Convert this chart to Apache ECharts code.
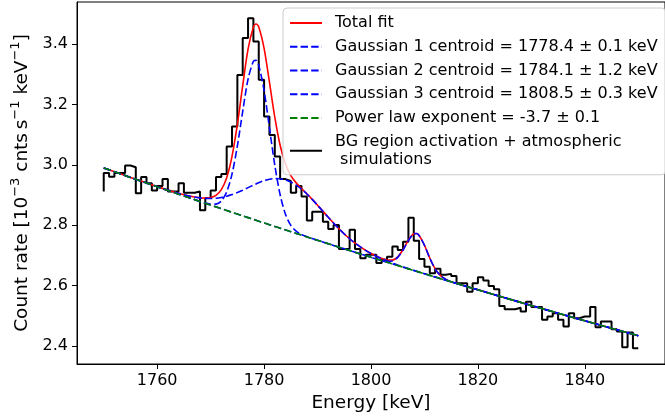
<!DOCTYPE html>
<html>
<head>
<meta charset="utf-8">
<script src="https://cdn.jsdelivr.net/npm/echarts@6/dist/echarts.min.js"></script>
<style>html,body{margin:0;padding:0;background:#fff}#c{width:665px;height:419px}</style>
</head>
<body>
<div id="c"></div>
<script>
// ---- data ----
const histEnergy = [1750,1751,1752,1753,1754,1755,1756,1757,1758,1759,1760,1761,1762,1763,1764,1765,1766,1767,1768,1769,1770,1771,1772,1773,1774,1775,1776,1777,1778,1779,1780,1781,1782,1783,1784,1785,1786,1787,1788,1789,1790,1791,1792,1793,1794,1795,1796,1797,1798,1799,1800,1801,1802,1803,1804,1805,1806,1807,1808,1809,1810,1811,1812,1813,1814,1815,1816,1817,1818,1819,1820,1821,1822,1823,1824,1825,1826,1827,1828,1829,1830,1831,1832,1833,1834,1835,1836,1837,1838,1839,1840,1841,1842,1843,1844,1845,1846,1847,1848,1849,1850];
const histRate = [2.912,
 2.973,2.961,2.973,2.973,2.998,2.992,2.906,2.960,2.939,2.915,
 2.930,2.953,2.912,2.912,2.939,2.908,2.908,2.912,2.850,2.890,
 2.915,2.960,2.970,3.061,3.127,3.298,3.420,3.486,3.409,3.282,
 3.160,3.099,3.028,2.953,2.947,2.908,2.930,2.895,2.816,2.845,
 2.845,2.812,2.788,2.801,2.721,2.721,2.785,2.721,2.691,2.702,
 2.702,2.675,2.686,2.696,2.730,2.718,2.745,2.825,2.749,2.688,
 2.663,2.641,2.656,2.636,2.639,2.632,2.608,2.608,2.580,2.608,
 2.628,2.617,2.599,2.588,2.533,2.522,2.522,2.527,2.514,2.547,
 2.529,2.529,2.487,2.498,2.509,2.487,2.465,2.509,2.492,2.498,
 2.498,2.529,2.462,2.481,2.481,2.456,2.448,2.396,2.445,2.393];

const fitEnergy = [1750,1755,1760,1764,1766,1768,1769,1770,1771,1772,1773,1774,1775,1776,1777,1778,1778.5,1779,1780,1781,1782,1783,1784,1785,1786,1787,1788,1789,1790,1792,1794,1796,1798,1800,1802,1803,1804,1805,1806,1807,1808,1808.5,1809,1810,1811,1812,1813,1814,1815,1818,1820,1825,1830,1835,1840,1845,1850];
const totalFit = [2.9900,2.9586,2.9280,2.9058,2.8969,2.8909,2.8899,2.8916,2.8989,2.9178,2.9575,3.0282,3.1338,3.2623,3.3831,3.4568,3.4666,3.4570,3.3862,3.2739,3.1580,3.0651,3.0026,2.9644,2.9404,2.9219,2.9042,2.8858,2.8665,2.8266,2.7886,2.7554,2.7282,2.7066,2.6899,2.6847,2.6848,2.6954,2.7195,2.7507,2.7719,2.7729,2.7663,2.7339,2.6913,2.6556,2.6331,2.6208,2.6132,2.5967,2.5861,2.5600,2.5342,2.5088,2.4836,2.4588,2.4343];
const gauss1 = [2.9900,2.9586,2.9276,2.9031,2.8910,2.8791,2.8737,2.8698,2.8701,2.8805,2.9103,2.9696,3.0625,3.1773,3.2838,3.3432,3.3461,3.3297,3.2464,3.1234,2.9993,2.9011,2.8366,2.7998,2.7804,2.7695,2.7621,2.7559,2.7501,2.7388,2.7275,2.7163,2.7051,2.6940,2.6830,2.6775,2.6720,2.6665,2.6611,2.6556,2.6502,2.6475,2.6448,2.6394,2.6340,2.6286,2.6232,2.6179,2.6126,2.5967,2.5861,2.5600,2.5342,2.5088,2.4836,2.4588,2.4343];
const gauss2 = [2.9900,2.9586,2.9280,2.9058,2.8969,2.8907,2.8891,2.8887,2.8897,2.8922,2.8962,2.9016,2.9084,2.9162,2.9246,2.9330,2.9370,2.9409,2.9476,2.9524,2.9548,2.9543,2.9505,2.9433,2.9330,2.9197,2.9036,2.8857,2.8665,2.8266,2.7886,2.7554,2.7282,2.7066,2.6893,2.6818,2.6749,2.6684,2.6623,2.6564,2.6507,2.6479,2.6451,2.6396,2.6341,2.6286,2.6232,2.6179,2.6126,2.5967,2.5861,2.5600,2.5342,2.5088,2.4836,2.4588,2.4343];
const gauss3 = [2.9900,2.9586,2.9276,2.9031,2.8910,2.8789,2.8729,2.8669,2.8609,2.8549,2.8490,2.8430,2.8371,2.8312,2.8253,2.8194,2.8165,2.8136,2.8078,2.8019,2.7961,2.7903,2.7845,2.7787,2.7730,2.7673,2.7615,2.7558,2.7501,2.7388,2.7275,2.7163,2.7051,2.6940,2.6836,2.6804,2.6819,2.6935,2.7183,2.7499,2.7714,2.7725,2.7660,2.7337,2.6912,2.6556,2.6331,2.6208,2.6132,2.5967,2.5861,2.5600,2.5342,2.5088,2.4836,2.4588,2.4343];
const powerLaw = [2.9900,2.9586,2.9276,2.9031,2.8910,2.8789,2.8729,2.8669,2.8609,2.8549,2.8490,2.8430,2.8371,2.8312,2.8253,2.8194,2.8165,2.8136,2.8078,2.8019,2.7961,2.7903,2.7845,2.7787,2.7730,2.7673,2.7615,2.7558,2.7501,2.7388,2.7275,2.7163,2.7051,2.6940,2.6830,2.6775,2.6720,2.6665,2.6611,2.6556,2.6502,2.6475,2.6448,2.6394,2.6340,2.6286,2.6232,2.6179,2.6126,2.5967,2.5861,2.5600,2.5342,2.5088,2.4836,2.4588,2.4343];

const xTicks = [1760,1780,1800,1820,1840];
const yTicks = [2.4,2.6,2.8,3.0,3.2,3.4];
const seriesNames = ['Total fit',
  'Gaussian 1 centroid = 1778.4 \u00b1 0.1 keV',
  'Gaussian 2 centroid = 1784.1 \u00b1 1.2 keV',
  'Gaussian 3 centroid = 1808.5 \u00b1 0.3 keV',
  'Power law exponent = -3.7 \u00b1 0.1',
  'BG region activation + atmospheric\n simulations'];

// ---- build chart ----
const pair = (xs, ys) => xs.map((x, i) => [x, ys[i]]);
const FONT = 'DejaVu Sans';
const dash = [7.4, 3.2];
const chart = echarts.init(document.getElementById('c'), null, {renderer: 'canvas'});
chart.setOption({
  animation: false,
  backgroundColor: '#fff',
  textStyle: {fontFamily: FONT, color: '#000'},
  grid: {left: 77, top: 2, width: 597, height: 362, show: true, borderColor: '#000', borderWidth: 1},
  xAxis: {
    type: 'value', min: 1745, max: 1855,
    name: 'Energy [keV]', nameLocation: 'middle', nameGap: 29,
    nameTextStyle: {fontFamily: FONT, fontSize: 18.5, color: '#000'},
    axisLine: {lineStyle: {color: '#000', width: 1}},
    axisTick: {show: true, length: 5, lineStyle: {color: '#000'}, customValues: xTicks},
    axisLabel: {fontFamily: FONT, fontSize: 16, color: '#000', margin: 9, customValues: xTicks,
      formatter: v => String(Math.round(v))},
    splitLine: {show: false}
  },
  yAxis: {
    type: 'value', min: 2.3405, max: 3.5395,
    name: '{n|Count rate [10}{s|\u22123}{n| cnts\u2009s}{s|\u22121}{n| keV}{s|\u22121}{n|]}',
    nameLocation: 'middle', nameGap: 42, nameRotate: 90,
    nameTextStyle: {fontFamily: FONT, fontSize: 18.5, color: '#000',
      rich: {
        n: {fontFamily: FONT, fontSize: 18.5, color: '#000', lineHeight: 23, verticalAlign: 'bottom'},
        s: {fontFamily: FONT, fontSize: 13, color: '#000', lineHeight: 23, verticalAlign: 'top'}
      }},
    axisLine: {show: true, lineStyle: {color: '#000', width: 1}},
    axisTick: {show: true, length: 5, lineStyle: {color: '#000'}, customValues: yTicks},
    axisLabel: {fontFamily: FONT, fontSize: 16, color: '#000', margin: 9, customValues: yTicks,
      formatter: v => Number(v).toFixed(1)},
    splitLine: {show: false}
  },
  legend: {
    orient: 'vertical', left: 283, top: 8,
    data: seriesNames,
    itemWidth: 32, itemHeight: 14, itemGap: 5.75,
    padding: [6, 8, 6, 6],
    backgroundColor: 'rgba(255,255,255,0.8)',
    borderColor: '#cccccc', borderWidth: 1, borderRadius: 4,
    itemStyle: {opacity: 0},
    textStyle: {fontFamily: FONT, fontSize: 16, color: '#000', lineHeight: 18, padding: [0, 0, 0, 8]}
  },
  series: [
    {name: seriesNames[5], type: 'line', step: 'start', data: pair(histEnergy, histRate), symbol: 'none',
     lineStyle: {color: '#000', width: 2}, itemStyle: {color: '#000'}, z: 1},
    {name: seriesNames[0], type: 'line', smooth: 0.3, data: pair(fitEnergy, totalFit), symbol: 'none',
     lineStyle: {color: '#ff0000', width: 1.6}, itemStyle: {color: '#ff0000'}, z: 2},
    {name: seriesNames[1], type: 'line', smooth: 0.3, data: pair(fitEnergy, gauss1), symbol: 'none',
     lineStyle: {color: '#0000ff', width: 1.6, type: dash}, itemStyle: {color: '#0000ff'}, z: 3},
    {name: seriesNames[2], type: 'line', smooth: 0.3, data: pair(fitEnergy, gauss2), symbol: 'none',
     lineStyle: {color: '#0000ff', width: 1.6, type: dash}, itemStyle: {color: '#0000ff'}, z: 3},
    {name: seriesNames[3], type: 'line', smooth: 0.3, data: pair(fitEnergy, gauss3), symbol: 'none',
     lineStyle: {color: '#0000ff', width: 1.6, type: dash}, itemStyle: {color: '#0000ff'}, z: 3},
    {name: seriesNames[4], type: 'line', smooth: 0.3, data: pair(fitEnergy, powerLaw), symbol: 'none',
     lineStyle: {color: '#008000', width: 1.6, type: dash}, itemStyle: {color: '#008000'}, z: 4}
  ]
});
</script>
</body>
</html>
